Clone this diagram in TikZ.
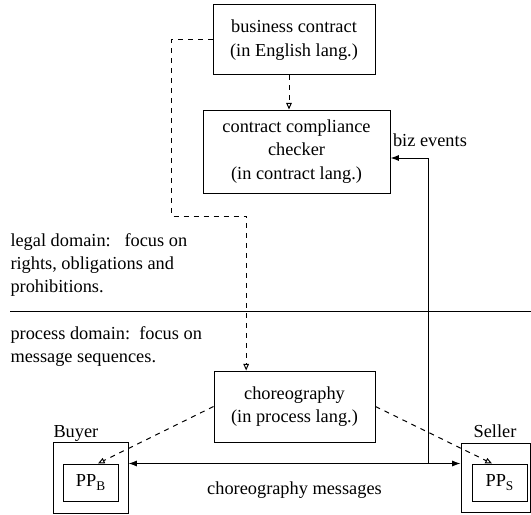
\documentclass[tikz,border=0pt]{standalone}
\usepackage{fontspec}
\setmainfont{Liberation Serif}
\usetikzlibrary{arrows.meta}

\newcommand{\subidx}[1]{\raisebox{-0.45ex}{\footnotesize #1}}

\begin{document}
\begin{tikzpicture}[x=0.6pt,y=-0.6pt,font=\fontsize{11}{14}\selectfont,line width=0.6pt,
  box/.style={draw,align=center,inner sep=0pt},
  dep/.style={dashed,-{Triangle[open,length=4pt,width=3.4pt]}},
  flow/.style={-{Latex[length=5pt,width=3.6pt]}},
  flows/.style={{Latex[length=5pt,width=3.6pt]}-{Latex[length=5pt,width=3.6pt]}}]

\useasboundingbox (0,0) rectangle (531,514);

% contract side
\node[box,minimum width=97.2pt,minimum height=42pt] (biz) at (294,40)
  {business contract\\(in English lang.)};
\node[box,minimum width=112.2pt,minimum height=49.8pt] (chk) at (296.5,151.5)
  {contract compliance\\checker\\(in contract lang.)};
\node[anchor=west] (bizev) at (387,140) {biz events};

% domains
\node[anchor=west,align=left,inner sep=0pt] (legal) at (10,265)
  {legal domain:\ \ \ focus on\\rights, obligations and\\prohibitions.};
\node[anchor=west,align=left,inner sep=0pt] (process) at (10,346.5)
  {process domain:\ \ focus on\\message sequences.};
\draw (10,311) -- (531,311);

% process side
\node[box,minimum width=96.6pt,minimum height=42.6pt] (chor) at (294.5,406.5)
  {choreography\\(in process lang.)};
\node[box,minimum width=45pt,minimum height=42.6pt] (buyer) at (90.5,477.5) {};
\node[box,minimum width=33pt,minimum height=22.2pt] (ppb) at (90.5,482.5) {PP\subidx{B}};
\node[box,minimum width=41.4pt,minimum height=41.4pt] (seller) at (495.5,477.5) {};
\node[box,minimum width=33pt,minimum height=22.2pt] (pps) at (499.5,482.5) {PP\subidx{S}};
\node[anchor=base west,inner sep=0pt] (buyerlbl) at (53,437) {Buyer};
\node[anchor=base,inner sep=0pt] (sellerlbl) at (495,437) {Seller};

% dependencies
\coordinate (bizout) at ([xshift=-3pt]biz.south);
\draw[dep] (bizout) -- (bizout |- chk.north);
\coordinate (jog) at (171,216);
\coordinate (chorin) at ([xshift=-29pt]chor.north);
\draw[dep] (biz.west) -| (jog) -| (chorin);
\draw[dep] (chor.west) -- ([xshift=4.5pt]ppb.north);
\draw[dep] (chor.east) -- ([xshift=-4.5pt]pps.north);

% messages
\draw[flows] (ppb.north -| buyer.east) --
  node[yshift=-16.2pt] (msglbl) {choreography messages} (ppb.north -| seller.west);
\coordinate (tapx) at (428,0);
\draw[flow] (ppb.north -| tapx) |- ([yshift=-3.9pt]chk.east);

\end{tikzpicture}
\end{document}
